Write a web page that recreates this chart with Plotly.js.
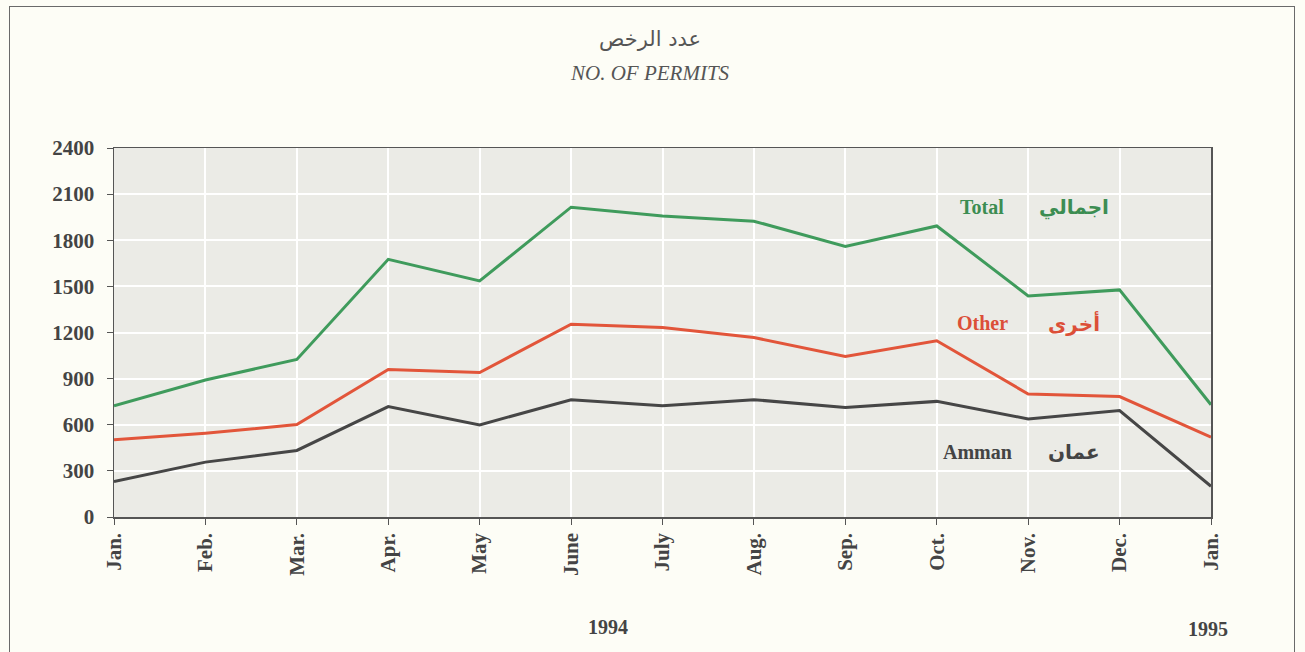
<!DOCTYPE html>
<html>
<head>
<meta charset="utf-8">
<script src="https://cdn.plot.ly/plotly-3.0.1.min.js"></script>
<style>
  html, body { margin: 0; padding: 0; background: #fdfdf6; }
  #wrap { position: relative; width: 1305px; height: 652px; overflow: hidden; }
  #chart { width: 1305px; height: 652px; }
  #frame { position: absolute; left: 9px; top: 6px; width: 1284px; height: 700px;
           border: 1.5px solid #6a6a6a; pointer-events: none; }
</style>
</head>
<body>
<div id="wrap">
  <div id="chart"></div>
  <div id="frame"></div>
</div>
<script>
const months = ["Jan.", "Feb.", "Mar.", "Apr.", "May", "June", "July", "Aug.", "Sep.", "Oct.", "Nov.", "Dec.", "Jan."];
const totalValues  = [724, 891, 1025, 1676, 1535, 2015, 1957, 1924, 1760, 1893, 1438, 1477, 730];
const otherValues  = [502, 545, 601, 960, 940, 1254, 1232, 1167, 1044, 1146, 800, 783, 519];
const ammanValues  = [230, 357, 433, 718, 599, 763, 724, 763, 713, 752, 638, 692, 200];
const yTicks = [0, 300, 600, 900, 1200, 1500, 1800, 2100, 2400];
const years = ["1994", "1995"];

const xIdx = months.map((_, i) => i);
const serif = "Liberation Serif, Times New Roman, serif";
const arab = "DejaVu Sans, Noto Sans";

const traces = [
  { x: xIdx, y: totalValues, name: "Total", mode: "lines", line: { color: "#3f9b5c", width: 3 } },
  { x: xIdx, y: otherValues, name: "Other", mode: "lines", line: { color: "#e2553a", width: 3 } },
  { x: xIdx, y: ammanValues, name: "Amman", mode: "lines", line: { color: "#464646", width: 3 } }
];

const layout = {
  width: 1305, height: 652,
  paper_bgcolor: "#fdfdf6",
  plot_bgcolor: "#ebebe6",
  showlegend: false,
  margin: { l: 114, r: 94, t: 148, b: 135 },
  xaxis: {
    range: [0, 12],
    tickvals: xIdx, ticktext: months,
    tickangle: -90,
    showgrid: true, gridcolor: "#ffffff", gridwidth: 2,
    zeroline: false,
    showline: true, linecolor: "#555555", linewidth: 1.5, mirror: true,
    ticks: "outside", ticklen: 6, tickcolor: "#555555",
    tickfont: { family: serif, size: 21, color: "#444444", weight: "bold" }
  },
  yaxis: {
    range: [0, 2400],
    tickvals: yTicks,
    showgrid: true, gridcolor: "#ffffff", gridwidth: 2,
    zeroline: false,
    showline: true, linecolor: "#555555", linewidth: 1.5, mirror: true,
    ticks: "outside", ticklen: 6, tickcolor: "#555555",
    ticklabelstandoff: 8,
    tickfont: { family: serif, size: 21, color: "#444444", weight: "bold" }
  },
  annotations: [
    { text: "عدد الرخص", xref: "paper", yref: "paper", x: 0.489, y: 1, yshift: 123, showarrow: false,
      font: { family: arab, size: 21, color: "#555555" } },
    { text: "<i>NO. OF PERMITS</i>", xref: "paper", yref: "paper", x: 0.489, y: 1, yshift: 89, showarrow: false,
      font: { family: serif, size: 21, color: "#555555" } },
    { text: "<b>Total</b>", xref: "x", yref: "y", x: 9.5, y: 2015, showarrow: false,
      font: { family: serif, size: 20, color: "#3c8d52" } },
    { text: "<b>اجمالي</b>", xref: "x", yref: "y", x: 10.5, y: 2015, showarrow: false,
      font: { family: arab, size: 20, color: "#3c8d52" } },
    { text: "<b>Other</b>", xref: "x", yref: "y", x: 9.5, y: 1265, showarrow: false,
      font: { family: serif, size: 20, color: "#dc4f38" } },
    { text: "<b>أخرى</b>", xref: "x", yref: "y", x: 10.5, y: 1265, showarrow: false,
      font: { family: arab, size: 20, color: "#dc4f38" } },
    { text: "<b>Amman</b>", xref: "x", yref: "y", x: 9.45, y: 425, showarrow: false,
      font: { family: serif, size: 20, color: "#444444" } },
    { text: "<b>عمان</b>", xref: "x", yref: "y", x: 10.5, y: 425, showarrow: false,
      font: { family: arab, size: 20, color: "#444444" } },
    { text: "<b>" + years[0] + "</b>", xref: "x", yref: "paper", x: 5.4, y: 0, yshift: -123, showarrow: false,
      font: { family: serif, size: 20, color: "#444444" } },
    { text: "<b>" + years[1] + "</b>", xref: "x", yref: "paper", x: 11.97, y: 0, yshift: -125, showarrow: false,
      font: { family: serif, size: 20, color: "#444444" } }
  ]
};

Plotly.newPlot("chart", traces, layout, { displayModeBar: false, staticPlot: true });
</script>
</body>
</html>
